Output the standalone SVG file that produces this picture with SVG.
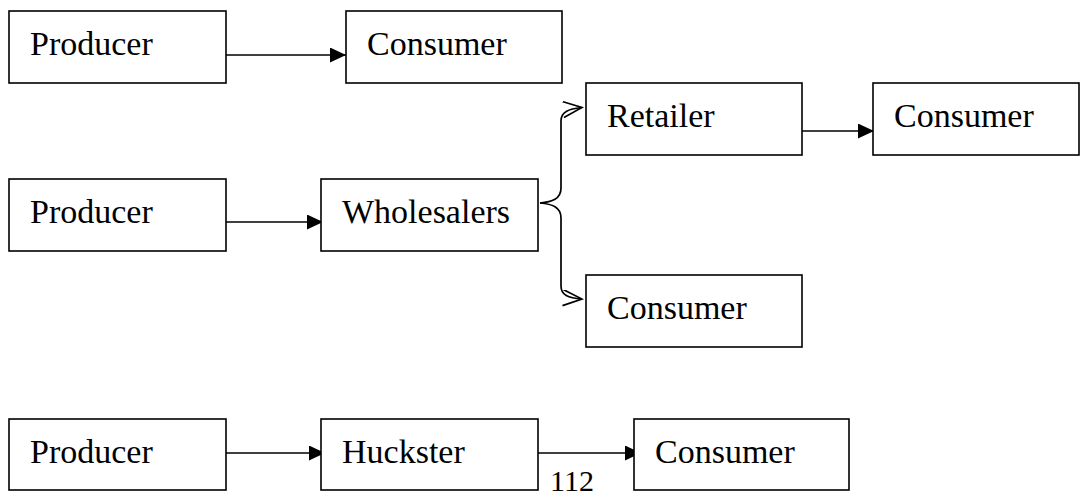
<svg xmlns="http://www.w3.org/2000/svg" width="1081" height="498" viewBox="0 0 1081 498">
<style>
.box{fill:#fff;stroke:#000;stroke-width:1.6}
.lbl{font-family:'Liberation Serif','Times New Roman',serif;font-size:34px;fill:#000}
.ln{fill:none;stroke:#000;stroke-width:1.7}
</style>
<defs>
<marker id="ah" markerUnits="userSpaceOnUse" markerWidth="17" markerHeight="16" refX="16" refY="7.5" orient="auto">
<path d="M0,0 L16,7.5 L0,15 z" fill="#000"/>
</marker>
<marker id="oa" markerUnits="userSpaceOnUse" markerWidth="22" markerHeight="18" refX="20" refY="8" orient="auto">
<path d="M1,0 L20,8 L1,16" fill="none" stroke="#000" stroke-width="1.6"/>
</marker>
</defs>
<rect width="1081" height="498" fill="#fff"/>
<g id="connectors">
<line class="ln" x1="226" y1="55" x2="346" y2="55" marker-end="url(#ah)"/>
<line class="ln" x1="217" y1="222" x2="323" y2="222" marker-end="url(#ah)"/>
<line class="ln" x1="802" y1="131" x2="874" y2="131" marker-end="url(#ah)"/>
<line class="ln" x1="223" y1="453" x2="325" y2="453" marker-end="url(#ah)"/>
<line class="ln" x1="533" y1="453" x2="641" y2="453" marker-end="url(#ah)"/>
<path class="ln" d="M540,203 C552,202 561,199 561,188 L561,121 C561,112 568,109 582,107.5" marker-end="url(#oa)"/>
<path class="ln" d="M540,203 C552,204 561,207 561,218 L561,286 C561,295 568,298 582,299" marker-end="url(#oa)"/>
</g>
<g id="producer1"><rect class="box" x="9" y="11" width="217" height="72"/><text class="lbl" font-family="Liberation Serif, serif" x="30" y="55">Producer</text></g>
<g id="consumer1"><rect class="box" x="346" y="11" width="216" height="72"/><text class="lbl" font-family="Liberation Serif, serif" x="367" y="55">Consumer</text></g>
<g id="producer2"><rect class="box" x="9" y="179" width="217" height="72"/><text class="lbl" font-family="Liberation Serif, serif" x="30" y="223">Producer</text></g>
<g id="wholesalers"><rect class="box" x="321" y="179" width="217" height="72"/><text class="lbl" font-family="Liberation Serif, serif" x="342" y="223">Wholesalers</text></g>
<g id="retailer"><rect class="box" x="586" y="83" width="216" height="72"/><text class="lbl" font-family="Liberation Serif, serif" x="607" y="127">Retailer</text></g>
<g id="consumer2"><rect class="box" x="873" y="83" width="206" height="72"/><text class="lbl" font-family="Liberation Serif, serif" x="894" y="127">Consumer</text></g>
<g id="consumer3"><rect class="box" x="586" y="275" width="216" height="72"/><text class="lbl" font-family="Liberation Serif, serif" x="607" y="319">Consumer</text></g>
<g id="producer3"><rect class="box" x="9" y="419" width="217" height="71"/><text class="lbl" font-family="Liberation Serif, serif" x="30" y="463">Producer</text></g>
<g id="huckster"><rect class="box" x="321" y="419" width="217" height="71"/><text class="lbl" font-family="Liberation Serif, serif" x="342" y="463">Huckster</text></g>
<g id="consumer4"><rect class="box" x="634" y="419" width="215" height="71"/><text class="lbl" font-family="Liberation Serif, serif" x="655" y="463">Consumer</text></g>
<text class="lbl" font-family="Liberation Serif, serif" x="550" y="491" style="font-size:30px">112</text>
</svg>
